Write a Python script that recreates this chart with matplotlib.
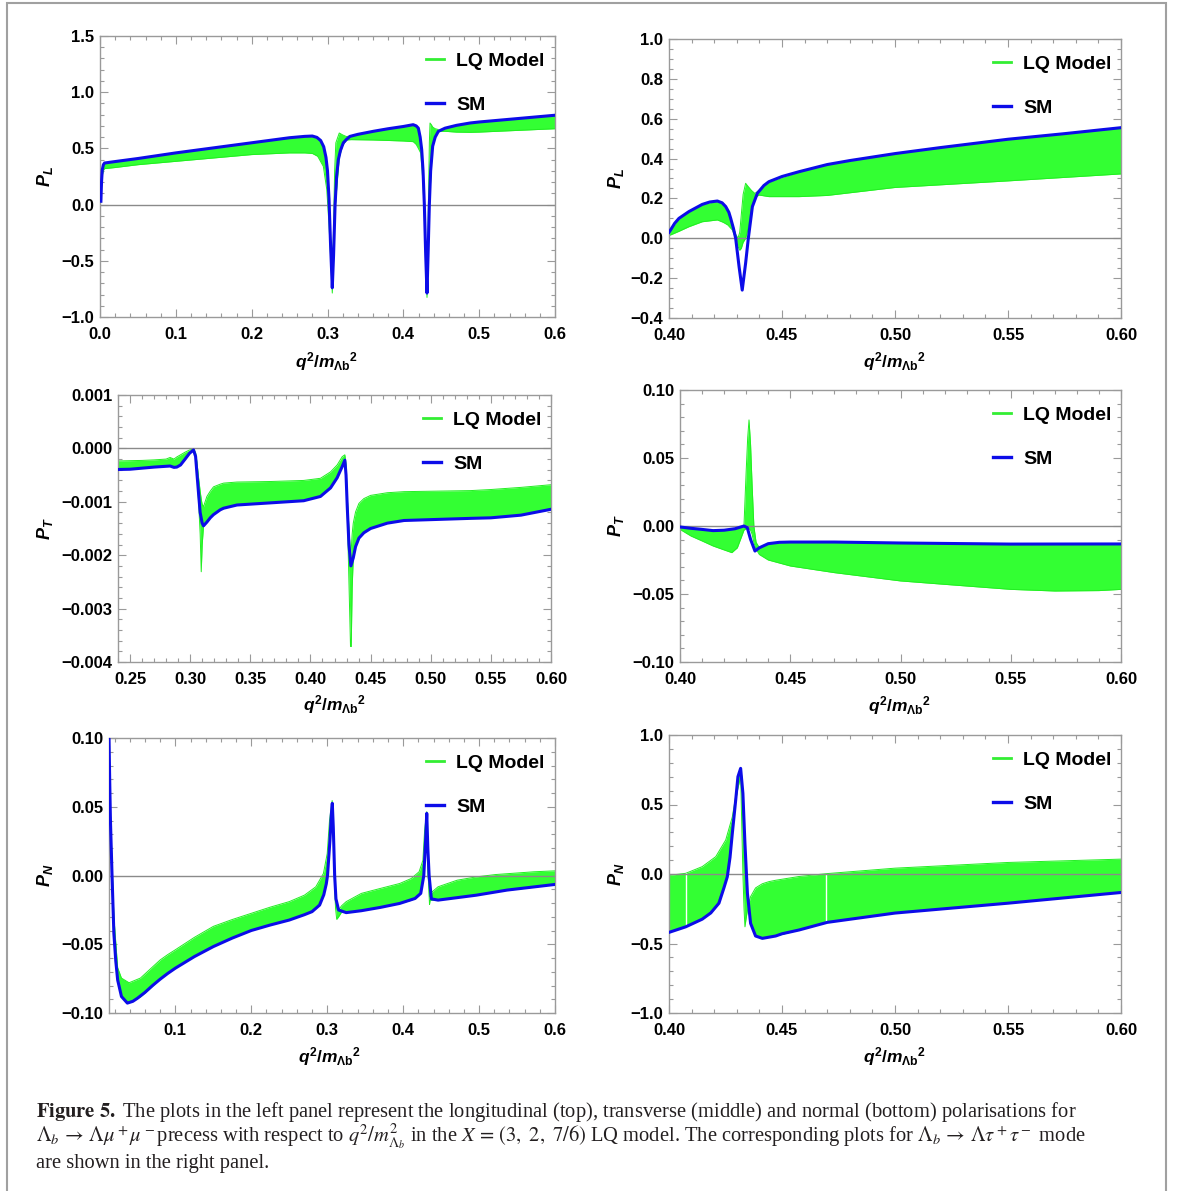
import numpy as np
import matplotlib
matplotlib.use("Agg")
import matplotlib.pyplot as plt
from matplotlib.lines import Line2D
from matplotlib.ticker import MultipleLocator
from matplotlib.patches import Rectangle

# ---------------- data ----------------
# Panel 1: Lambda_b -> Lambda mu mu, P_L
sm1_x = [0.0012, 0.002, 0.003, 0.0045, 0.006, 0.02, 0.05, 0.1, 0.15, 0.2, 0.25, 0.27, 0.28, 0.286, 0.291,
         0.295, 0.298, 0.300, 0.302, 0.304, 0.3063, 0.308, 0.310, 0.312, 0.3143, 0.317, 0.3209, 0.325, 0.3297,
         0.34, 0.3604, 0.38, 0.40, 0.413, 0.417, 0.4198, 0.4222, 0.4242, 0.426, 0.4277, 0.4295, 0.4312, 0.4328,
         0.4343, 0.436, 0.4387, 0.442, 0.4462, 0.455, 0.47, 0.488, 0.5, 0.55, 0.6]
sm1_y = [0.03, 0.2, 0.31, 0.355, 0.37, 0.383, 0.41, 0.46, 0.505, 0.55, 0.595, 0.607, 0.61, 0.598, 0.57,
         0.515, 0.42, 0.30, 0.05, -0.35, -0.74, -0.45, 0.0, 0.25, 0.40, 0.48, 0.55, 0.58, 0.607,
         0.625, 0.652, 0.675, 0.695, 0.711, 0.70, 0.68, 0.60, 0.49, 0.30, 0.0, -0.45, -0.787, -0.40,
         0.0, 0.30, 0.52, 0.60, 0.652, 0.68, 0.705, 0.726, 0.735, 0.765, 0.795]
lq1_x = [0.0012, 0.002, 0.003, 0.0045, 0.006, 0.02, 0.05, 0.1, 0.15, 0.2, 0.25, 0.27, 0.28, 0.287, 0.2945,
         0.299, 0.3018, 0.304, 0.3063, 0.308, 0.3094, 0.311, 0.3155, 0.32, 0.325, 0.331, 0.36, 0.40, 0.413,
         0.417, 0.4198, 0.4228, 0.4257, 0.4277, 0.4295, 0.4312, 0.4328, 0.4343, 0.4352, 0.437, 0.4387, 0.442,
         0.445, 0.4475, 0.455, 0.47, 0.488, 0.5, 0.55, 0.6]
lq1_lo = [0.02, 0.15, 0.26, 0.305, 0.32, 0.33, 0.355, 0.385, 0.415, 0.445, 0.46, 0.46, 0.455, 0.43, 0.34,
          0.135, -0.16, -0.45, -0.787, -0.50, -0.10, 0.05, 0.42, 0.53, 0.575, 0.578, 0.575, 0.566, 0.56,
          0.535, 0.50, 0.46, 0.22, -0.10, -0.50, -0.826, -0.45, -0.05, 0.10, 0.35, 0.52, 0.60,
          0.64, 0.652, 0.652, 0.645, 0.643, 0.645, 0.66, 0.675]
lq1_hi = [0.03, 0.2, 0.31, 0.355, 0.37, 0.383, 0.41, 0.46, 0.505, 0.55, 0.595, 0.607, 0.61, 0.597, 0.52,
          0.34, 0.08, -0.35, -0.70, -0.20, 0.30, 0.55, 0.637, 0.62, 0.605, 0.612, 0.652, 0.695, 0.711,
          0.70, 0.68, 0.57, 0.33, 0.0, -0.45, -0.75, -0.10, 0.55, 0.726, 0.71, 0.69, 0.675,
          0.67, 0.66, 0.68, 0.705, 0.726, 0.735, 0.765, 0.795]

# Panel 2: Lambda_b -> Lambda tau tau, P_L
sm2_x = [0.4, 0.4007, 0.4025, 0.4044, 0.4088, 0.4147, 0.418, 0.4214, 0.4235, 0.4251, 0.4265, 0.4273, 0.4285,
         0.4295, 0.431, 0.4324, 0.4339, 0.4351, 0.4369, 0.4391, 0.442, 0.4442, 0.45, 0.4575, 0.47, 0.48, 0.5,
         0.52, 0.55, 0.575, 0.6]
sm2_y = [0.03, 0.042, 0.075, 0.10, 0.134, 0.17, 0.182, 0.187, 0.178, 0.159, 0.13, 0.10, 0.05,
         0.0, -0.142, -0.26, -0.125, 0.0, 0.159, 0.226, 0.265, 0.284, 0.31, 0.334, 0.37, 0.39, 0.425,
         0.455, 0.497, 0.525, 0.555]
lq2_x = [0.4, 0.4007, 0.4044, 0.4088, 0.4147, 0.4214, 0.424, 0.426, 0.428, 0.4295, 0.4305, 0.4313, 0.432,
         0.4328, 0.4339, 0.435, 0.4365, 0.438, 0.4398, 0.4442, 0.4575, 0.47, 0.5, 0.55, 0.6]
lq2_lo = [0.015, 0.017, 0.035, 0.058, 0.083, 0.092, 0.08, 0.067, 0.042, 0.0, -0.04, -0.06, -0.05,
          -0.02, 0.0, 0.05, 0.15, 0.205, 0.217, 0.209, 0.209, 0.215, 0.255, 0.288, 0.323]
lq2_hi = [0.03, 0.042, 0.10, 0.134, 0.17, 0.187, 0.175, 0.145, 0.075, 0.02, 0.0, 0.03, 0.12,
          0.22, 0.276, 0.26, 0.24, 0.225, 0.24, 0.284, 0.334, 0.37, 0.425, 0.497, 0.555]

# Panel 3: Lambda_b -> Lambda mu mu, P_T
sm3_x = [0.240, 0.250, 0.260, 0.270, 0.280, 0.2833, 0.2865, 0.2889, 0.2920, 0.2958, 0.2995, 0.3028, 0.3045,
         0.3056, 0.3070, 0.3083, 0.3100, 0.3111, 0.3139, 0.3167, 0.3194, 0.3250, 0.3278, 0.3389, 0.3667,
         0.3944, 0.4083, 0.4167, 0.4222, 0.4264, 0.4286, 0.4296, 0.4306, 0.4320, 0.4336, 0.4356, 0.4375,
         0.4403, 0.4444, 0.4500, 0.4639, 0.4778, 0.5333, 0.5500, 0.5750, 0.6000]
sm3_y = [-3.95e-4, -3.9e-4, -3.7e-4, -3.5e-4, -3.35e-4, -3.3e-4, -3.55e-4, -3.5e-4, -3.1e-4, -2.0e-4, -0.9e-4,
         -0.3e-4, -1.5e-4, -4.6e-4, -8.5e-4, -1.2e-3, -1.40e-3, -1.45e-3, -1.38e-3, -1.30e-3, -1.24e-3,
         -1.15e-3, -1.12e-3, -1.06e-3, -1.02e-3, -0.98e-3, -0.90e-3, -0.74e-3, -0.55e-3, -0.34e-3, -0.22e-3,
         -0.5e-3, -1.09e-3, -1.8e-3, -2.2e-3, -2.05e-3, -1.84e-3, -1.68e-3, -1.58e-3, -1.50e-3, -1.40e-3,
         -1.35e-3, -1.31e-3, -1.30e-3, -1.25e-3, -1.14e-3]
lq3_x = [0.240, 0.250, 0.260, 0.270, 0.280, 0.2833, 0.2865, 0.2889, 0.2920, 0.2958, 0.2995, 0.3028, 0.3045,
         0.3056, 0.3070, 0.3083, 0.3092, 0.3100, 0.3111, 0.3139, 0.3167, 0.3194, 0.3250, 0.3278, 0.3389,
         0.3667, 0.3944, 0.4083, 0.4167, 0.4222, 0.4264, 0.4286, 0.4296, 0.4306, 0.4320, 0.4333, 0.4339,
         0.4347, 0.4356, 0.4375, 0.4403, 0.4444, 0.4500, 0.4639, 0.4778, 0.5333, 0.5500, 0.5750, 0.6000]
lq3_lo = [-3.95e-4, -3.9e-4, -3.7e-4, -3.5e-4, -3.35e-4, -3.3e-4, -3.55e-4, -3.5e-4, -3.1e-4, -2.0e-4,
          -0.9e-4, -0.3e-4, -1.5e-4, -4.6e-4, -1.0e-3, -1.6e-3, -2.31e-3, -1.8e-3, -1.45e-3, -1.38e-3,
          -1.30e-3, -1.24e-3, -1.15e-3, -1.12e-3, -1.06e-3, -1.02e-3, -0.98e-3, -0.90e-3, -0.74e-3,
          -0.55e-3, -0.34e-3, -0.22e-3, -0.5e-3, -1.2e-3, -2.5e-3, -3.71e-3, -3.71e-3, -2.6e-3, -2.05e-3,
          -1.84e-3, -1.68e-3, -1.58e-3, -1.50e-3, -1.40e-3, -1.35e-3, -1.31e-3, -1.30e-3, -1.25e-3, -1.14e-3]
lq3_hi = [-2.35e-4, -2.3e-4, -2.25e-4, -2.15e-4, -2.0e-4, -1.7e-4, -2.0e-4, -1.6e-4, -1.2e-4, -0.7e-4,
          -0.3e-4, -0.1e-4, -0.8e-4, -2.5e-4, -5.5e-4, -8.0e-4, -9.5e-4, -1.05e-3, -1.09e-3, -0.90e-3,
          -0.80e-3, -0.72e-3, -0.67e-3, -0.65e-3, -0.63e-3, -0.62e-3, -0.60e-3, -0.56e-3, -0.44e-3,
          -0.31e-3, -0.155e-3, -0.12e-3, -0.30e-3, -0.90e-3, -1.5e-3, -2.0e-3, -1.9e-3, -1.6e-3, -1.4e-3,
          -1.19e-3, -1.03e-3, -0.94e-3, -0.88e-3, -0.83e-3, -0.81e-3, -0.79e-3, -0.77e-3, -0.73e-3, -0.68e-3]

# Panel 4: Lambda_b -> Lambda tau tau, P_T
sm4_x = [0.400, 0.405, 0.41, 0.415, 0.42, 0.425, 0.428, 0.429, 0.4305, 0.432, 0.434, 0.436, 0.44, 0.445,
         0.45, 0.47, 0.5, 0.55, 0.6]
sm4_y = [-0.0007, -0.0017, -0.0025, -0.0034, -0.0031, -0.0020, -0.0005, 0.0, -0.0012, -0.0098, -0.0184,
         -0.016, -0.013, -0.012, -0.0118, -0.0118, -0.0125, -0.0133, -0.0132]
lq4_x = [0.400, 0.405, 0.41, 0.415, 0.42, 0.4235, 0.426, 0.428, 0.429, 0.4300, 0.4307, 0.4313, 0.4320,
         0.4327, 0.4335, 0.4345, 0.436, 0.438, 0.44, 0.45, 0.47, 0.5, 0.52, 0.55, 0.57, 0.59, 0.6]
lq4_lo = [-0.0025, -0.0074, -0.0110, -0.0147, -0.0176, -0.0196, -0.0160, -0.0074, -0.0030, -0.0020,
          -0.0020, -0.0020, -0.0030, -0.0060, -0.0120, -0.0170, -0.0210, -0.0230, -0.0250, -0.0294,
          -0.0343, -0.0404, -0.0429, -0.0466, -0.0478, -0.0475, -0.0466]
lq4_hi = [-0.0007, -0.0017, -0.0025, -0.0034, -0.0031, -0.0024, -0.0015, -0.0005, 0.0, 0.040, 0.065,
          0.078, 0.060, 0.030, 0.0, -0.012, -0.016, -0.0145, -0.013, -0.0118, -0.0118, -0.0125, -0.0128,
          -0.0133, -0.0133, -0.0132, -0.0132]

# Panel 5: Lambda_b -> Lambda mu mu, P_N
sm5_x = [0.0126, 0.0135, 0.0145, 0.0166, 0.019, 0.0215, 0.024, 0.029, 0.0368, 0.044, 0.05, 0.06, 0.07, 0.08,
         0.09, 0.1, 0.125, 0.15, 0.175, 0.2, 0.225, 0.25, 0.27, 0.28, 0.29, 0.2955, 0.2988, 0.3004, 0.3035,
         0.3055, 0.3067, 0.308, 0.3098, 0.3115, 0.315, 0.325, 0.345, 0.37, 0.3955, 0.4157, 0.4232, 0.4272,
         0.4295, 0.4311, 0.4325, 0.4342, 0.4372, 0.446, 0.4965, 0.5369, 0.6]
sm5_y = [0.10, 0.07, 0.04, 0.0, -0.042, -0.062, -0.076, -0.088, -0.0928, -0.0915, -0.0893, -0.0850, -0.0800,
         -0.0754, -0.0712, -0.0674, -0.059, -0.0517, -0.0455, -0.040, -0.036, -0.0324, -0.0285, -0.0263,
         -0.0215, -0.014, -0.006, 0.0, 0.025, 0.045, 0.0525, 0.035, 0.0, -0.017, -0.0251, -0.027, -0.0256,
         -0.0232, -0.0203, -0.0167, -0.013, 0.0, 0.025, 0.0452, 0.02, 0.0, -0.017, -0.0179, -0.0143,
         -0.0106, -0.0065]
lq5_x = [0.0126, 0.0145, 0.0166, 0.019, 0.024, 0.029, 0.039, 0.054, 0.065, 0.08, 0.09, 0.1, 0.125, 0.15,
         0.175, 0.2, 0.225, 0.25, 0.27, 0.285, 0.295, 0.300, 0.303, 0.3065, 0.308, 0.3098, 0.311, 0.3125,
         0.315, 0.319, 0.325, 0.345, 0.37, 0.3955, 0.4106, 0.421, 0.426, 0.4283, 0.4311, 0.4325, 0.4335,
         0.4347, 0.4355, 0.4384, 0.446, 0.4712, 0.4965, 0.5217, 0.5722, 0.6]
lq5_lo = [0.10, 0.04, 0.0, -0.042, -0.076, -0.088, -0.0925, -0.0883, -0.0830, -0.0754, -0.0712, -0.0674,
          -0.059, -0.0517, -0.0455, -0.040, -0.036, -0.0324, -0.0285, -0.024, -0.014, -0.002, 0.022, 0.05,
          0.03, -0.01, -0.024, -0.0319, -0.030, -0.0265, -0.027, -0.0256, -0.0232, -0.0203, -0.018, -0.0145,
          -0.003, 0.01, 0.04, 0.0, -0.005, -0.021, -0.018, -0.0179, -0.0179, -0.016, -0.0143, -0.0118,
          -0.0085, -0.0065]
lq5_hi = [0.10, 0.045, 0.01, -0.03, -0.067, -0.0746, -0.078, -0.0746, -0.0690, -0.0614, -0.0575, -0.054,
          -0.045, -0.037, -0.032, -0.0275, -0.023, -0.019, -0.0143, -0.0082, 0.0015, 0.016, 0.040, 0.0545,
          0.035, 0.0, -0.017, -0.0226, -0.025, -0.022, -0.019, -0.013, -0.0094, -0.0058, -0.0022, 0.0027,
          0.011, 0.033, 0.0464, 0.02, 0.0, -0.0155, -0.0140, -0.0118, -0.0082, -0.0034, -0.001, 0.0007,
          0.0027, 0.0034]

# Panel 6: Lambda_b -> Lambda tau tau, P_N
sm6_x = [0.4, 0.4074, 0.4147, 0.4185, 0.4221, 0.4243, 0.4258, 0.4270, 0.4280, 0.4295, 0.4305, 0.4317,
         0.4327, 0.4336, 0.4347, 0.4361, 0.4383, 0.4413, 0.4472, 0.45, 0.4575, 0.47, 0.5, 0.55, 0.6]
sm6_y = [-0.42, -0.38, -0.325, -0.28, -0.21, -0.10, -0.02, 0.12, 0.29, 0.53, 0.70, 0.76, 0.58, 0.22,
         -0.14, -0.355, -0.446, -0.463, -0.446, -0.43, -0.403, -0.348, -0.281, -0.21, -0.133]
lq6_x = [0.4, 0.4074, 0.4147, 0.4207, 0.4251, 0.4280, 0.4295, 0.4305, 0.4317, 0.4322, 0.4327, 0.4332,
         0.4336, 0.4341, 0.4347, 0.4355, 0.4361, 0.4383, 0.4413, 0.4442, 0.4472, 0.4575, 0.47, 0.5, 0.55, 0.6]
lq6_lo = [-0.42, -0.38, -0.325, -0.24, -0.06, 0.29, 0.53, 0.62, 0.70, 0.35, 0.0, -0.25, -0.38, -0.32,
          -0.26, -0.26, -0.355, -0.446, -0.463, -0.455, -0.446, -0.403, -0.348, -0.281, -0.21, -0.133]
lq6_hi = [-0.01, 0.005, 0.053, 0.125, 0.245, 0.41, 0.556, 0.70, 0.76, 0.70, 0.58, 0.40, 0.22, 0.05,
          -0.14, -0.20, -0.163, -0.10, -0.07, -0.055, -0.045, -0.018, 0.003, 0.042, 0.083, 0.107]
seam6_x = [0.4075, 0.4695]

# Ticks
p1_xticks = [0.0, 0.1, 0.2, 0.3, 0.4, 0.5, 0.6]
p1_xlabels = ["0.0", "0.1", "0.2", "0.3", "0.4", "0.5", "0.6"]
p1_yticks = [-1.0, -0.5, 0.0, 0.5, 1.0, 1.5]
p1_ylabels = ["\u22121.0", "\u22120.5", "0.0", "0.5", "1.0", "1.5"]
tau_xticks = [0.40, 0.45, 0.50, 0.55, 0.60]
tau_xlabels = ["0.40", "0.45", "0.50", "0.55", "0.60"]
p2_yticks = [-0.4, -0.2, 0.0, 0.2, 0.4, 0.6, 0.8, 1.0]
p2_ylabels = ["\u22120.4", "\u22120.2", "0.0", "0.2", "0.4", "0.6", "0.8", "1.0"]
p3_xticks = [0.25, 0.30, 0.35, 0.40, 0.45, 0.50, 0.55, 0.60]
p3_xlabels = ["0.25", "0.30", "0.35", "0.40", "0.45", "0.50", "0.55", "0.60"]
p3_yticks = [-0.004, -0.003, -0.002, -0.001, 0.0, 0.001]
p3_ylabels = ["\u22120.004", "\u22120.003", "\u22120.002", "\u22120.001", "0.000", "0.001"]
p4_yticks = [-0.10, -0.05, 0.0, 0.05, 0.10]
p4_ylabels = ["\u22120.10", "\u22120.05", "0.00", "0.05", "0.10"]
p5_xticks = [0.1, 0.2, 0.3, 0.4, 0.5, 0.6]
p5_xlabels = ["0.1", "0.2", "0.3", "0.4", "0.5", "0.6"]
p5_yticks = [-0.10, -0.05, 0.0, 0.05, 0.10]
p5_ylabels = ["\u22120.10", "\u22120.05", "0.00", "0.05", "0.10"]
p6_yticks = [-1.0, -0.5, 0.0, 0.5, 1.0]
p6_ylabels = ["\u22121.0", "\u22120.5", "0.0", "0.5", "1.0"]

legend_labels = ["LQ Model", "SM"]
xlabel_text = r"$q^2/m_{\Lambda\mathrm{b}}{}^2$"

caption_lines = [
    r"$\mathbf{Figure\ 5.}$ The plots in the left panel represent the longitudinal (top), transverse (middle) and normal (bottom) polarisations for",
    r"$\Lambda_b\,\rightarrow\,\Lambda\mu^+\mu^-$precess with respect to $q^2/m^2_{\Lambda_b}$ in the $X\,=\,(3,\ 2,\ 7/6)$ LQ model. The corresponding plots for $\Lambda_b\,\rightarrow\,\Lambda\tau^+\tau^-$ mode",
    r"are shown in the right panel.",
]

# ---------------- style ----------------
W, H = 1182, 1191
plt.rcParams['font.family'] = ['Liberation Sans', 'DejaVu Sans']
plt.rcParams['font.weight'] = 'normal'
plt.rcParams['mathtext.fontset'] = 'custom'
plt.rcParams['mathtext.it'] = 'Liberation Sans:italic:bold'
plt.rcParams['mathtext.rm'] = 'Liberation Sans:bold'
plt.rcParams['mathtext.bf'] = 'Liberation Sans:bold'
plt.rcParams['mathtext.sf'] = 'Liberation Sans:bold'

GREEN = '#33FF33'
GREEN_EDGE = '#22EE22'
GREEN_LEG = '#33EE33'
BLUE = '#0C0CE8'
FRAME = '#9a9a9a'
ZERO = '#8a8a8a'

fig = plt.figure(figsize=(W / 100, H / 100), dpi=100)

# outer frame
fig.add_artist(Rectangle((7 / W, -0.05), (1166 - 7) / W, 1.05 - 3 / H, transform=fig.transFigure,
                         fill=False, edgecolor='#a0a0a0', lw=1.5))

panels = [
    dict(box=(100, 36, 555, 317), sm=(sm1_x, sm1_y), lq=(lq1_x, lq1_lo, lq1_hi), xlim=(0.0, 0.6),
         ylim=(-1.0, 1.5), xt=(p1_xticks, p1_xlabels), yt=(p1_yticks, p1_ylabels), xminor=0.02, yminor=0.1,
         ylabel=r'$P_L$', leg=(426, 59), xl=(327, 362), yl=45),
    dict(box=(669, 39, 1121, 318), sm=(sm2_x, sm2_y), lq=(lq2_x, lq2_lo, lq2_hi), xlim=(0.4, 0.6),
         ylim=(-0.4, 1.0), xt=(tau_xticks, tau_xlabels), yt=(p2_yticks, p2_ylabels), xminor=0.01, yminor=0.05,
         ylabel=r'$P_L$', leg=(993, 62), xl=(895, 362), yl=616),
    dict(box=(118, 395, 551, 662), sm=(sm3_x, sm3_y), lq=(lq3_x, lq3_lo, lq3_hi), xlim=(0.24, 0.6),
         ylim=(-0.004, 0.001), xt=(p3_xticks, p3_xlabels), yt=(p3_yticks, p3_ylabels), xminor=0.01,
         yminor=0.0002, ylabel=r'$P_T$', leg=(423, 418), xl=(335, 705), yl=45),
    dict(box=(680, 390, 1121, 662), sm=(sm4_x, sm4_y), lq=(lq4_x, lq4_lo, lq4_hi), xlim=(0.4, 0.6),
         ylim=(-0.1, 0.1), xt=(tau_xticks, tau_xlabels), yt=(p4_yticks, p4_ylabels), xminor=0.01, yminor=0.01,
         ylabel=r'$P_T$', leg=(993, 413), xl=(900, 706), yl=616),
    dict(box=(109, 738, 555, 1013), sm=(sm5_x, sm5_y), lq=(lq5_x, lq5_lo, lq5_hi), xlim=(0.0126, 0.6),
         ylim=(-0.1, 0.1), xt=(p5_xticks, p5_xlabels), yt=(p5_yticks, p5_ylabels), xminor=0.02, yminor=0.01,
         ylabel=r'$P_N$', leg=(426, 761), xl=(330, 1057), yl=45),
    dict(box=(669, 735, 1121, 1013), sm=(sm6_x, sm6_y), lq=(lq6_x, lq6_lo, lq6_hi), xlim=(0.4, 0.6),
         ylim=(-1.0, 1.0), xt=(tau_xticks, tau_xlabels), yt=(p6_yticks, p6_ylabels), xminor=0.01, yminor=0.1,
         ylabel=r'$P_N$', leg=(993, 758), xl=(895, 1057), yl=616, seams=seam6_x),
]

for p in panels:
    l, t, r, b = p['box']
    ax = fig.add_axes([l / W, 1 - b / H, (r - l) / W, (b - t) / H])
    lx, llo, lhi = p['lq']
    ax.fill_between(lx, llo, lhi, color=GREEN, lw=0, zorder=2)
    ax.plot(lx, llo, color=GREEN_EDGE, lw=0.7, zorder=2.1)
    ax.plot(lx, lhi, color=GREEN_EDGE, lw=0.7, zorder=2.1)
    if 'seams' in p:
        sx = np.array(p['seams'])
        ax.vlines(sx, np.interp(sx, lx, llo), np.interp(sx, lx, lhi), color='white', lw=1.0, zorder=2.2)
    ax.axhline(0, color=ZERO, lw=1.0, zorder=2.5)
    ax.plot(p['sm'][0], p['sm'][1], color=BLUE, lw=2.2, zorder=3, solid_joinstyle='round')
    ax.set_xlim(*p['xlim'])
    ax.set_ylim(*p['ylim'])
    ax.set_xticks(p['xt'][0], p['xt'][1])
    ax.set_yticks(p['yt'][0], p['yt'][1])
    for lab in ax.get_xticklabels() + ax.get_yticklabels():
        lab.set_fontweight('bold')
    ax.xaxis.set_minor_locator(MultipleLocator(p['xminor']))
    ax.yaxis.set_minor_locator(MultipleLocator(p['yminor']))
    ax.tick_params(which='both', direction='in', top=True, right=True, color=FRAME, width=0.8,
                   labelsize=12)
    ax.tick_params(which='major', length=5.5)
    ax.tick_params(which='minor', length=3)
    ax.tick_params(axis='x', pad=7)
    ax.tick_params(axis='y', pad=4)
    for s in ax.spines.values():
        s.set_color(FRAME)
        s.set_linewidth(1.0)
    # axis labels
    ax.set_xlabel(xlabel_text, fontsize=12.5)
    ax.xaxis.label.set_va('center')
    ax.xaxis.set_label_coords((p['xl'][0] - l) / (r - l), (b - p['xl'][1]) / (b - t))
    ax.set_ylabel(p['ylabel'], fontsize=13)
    ax.yaxis.label.set_va('center')
    ax.yaxis.set_label_coords((p['yl'] - l) / (r - l), 0.5)
    # legend
    handles = [Line2D([], [], color=GREEN_LEG, lw=2.0), Line2D([], [], color=BLUE, lw=2.4)]
    hx, hy = p['leg']
    ax.legend(handles, legend_labels, loc='upper left',
              bbox_to_anchor=(hx / W, 1 - (hy - 7) / H), bbox_transform=fig.transFigure,
              frameon=False, prop={'weight': 'bold', 'size': 14, 'family': 'Liberation Sans'},
              handlelength=0.93, handletextpad=0.62, labelspacing=1.36,
              borderpad=0, borderaxespad=0)

# caption
cap_texts = []
cap_y = [1117, 1143, 1168]
for s, y in zip(caption_lines, cap_y):
    t = fig.text(36 / W, 1 - y / H, s, family='Liberation Serif', weight='normal', fontsize=13,
                 math_fontfamily='stix', va='baseline', ha='left', color='#231f20')
    cap_texts.append(t)
fig.canvas.draw()
bb = cap_texts[0].get_window_extent()
scale = (1075 - 36) / bb.width
for t in cap_texts:
    t.set_fontsize(13 * scale)

fig.savefig('out.png', dpi=100, facecolor='white')
